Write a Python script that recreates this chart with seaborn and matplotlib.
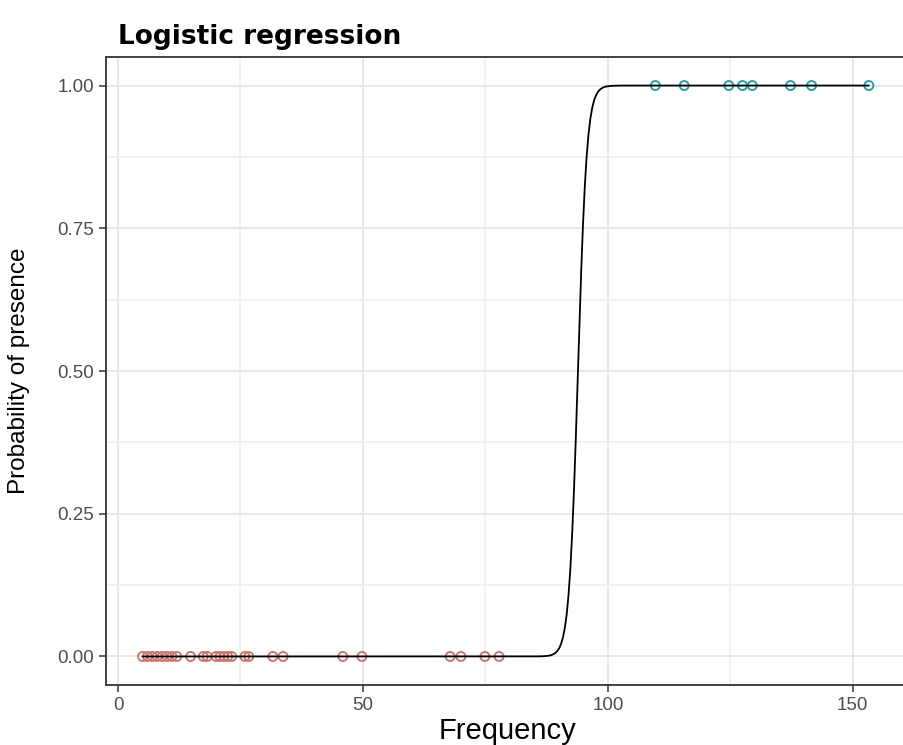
import numpy as np
import pandas as pd
import matplotlib
matplotlib.use("Agg")
import matplotlib.pyplot as plt
import seaborn as sns
from matplotlib.ticker import MultipleLocator, FormatStrFormatter

freq_absent = [5.0, 6.0, 7.0, 8.0, 9.0, 10.0, 11.0, 12.0, 14.8, 17.4, 18.2,
               20.0, 20.8, 21.6, 22.4, 23.2, 25.9, 26.7, 31.6, 33.7, 45.9,
               49.8, 67.8, 70.0, 74.9, 77.8]
freq_present = [109.7, 115.6, 124.7, 127.5, 129.5, 137.3, 141.6, 153.3]

# fitted logistic curve (midpoint / slope)
fit_midpoint = 93.9
fit_slope = 1.1

x_ticks = [0, 50, 100, 150]
y_ticks = [0.0, 0.25, 0.5, 0.75, 1.0]

df = pd.DataFrame({
    "Frequency": freq_absent + freq_present,
    "presence": [0] * len(freq_absent) + [1] * len(freq_present),
})
xs = np.linspace(min(df["Frequency"]), max(df["Frequency"]), 400)
curve = pd.DataFrame({"Frequency": xs,
                      "prob": 1 / (1 + np.exp(-fit_slope * (xs - fit_midpoint)))})

sns.set_theme(style="white")
plt.rcParams["font.family"] = ["Liberation Sans", "DejaVu Sans"]

fig = plt.figure(figsize=(9.04, 7.45), dpi=100)
ax = fig.add_axes([0.1173, 0.0805, 0.888, 0.843])

sns.scatterplot(data=df, x="Frequency", y="presence", hue="presence",
                palette={0: "#C97770", 1: "#2A9FA6"},
                s=42, linewidth=1.4, legend=False, ax=ax, zorder=3)
# hollow markers: seaborn fills them, so restyle the collection
coll = ax.collections[0]
coll.set_edgecolors(coll.get_facecolors())
coll.set_facecolors("none")

sns.lineplot(data=curve, x="Frequency", y="prob", color="black",
             linewidth=1.3, ax=ax, zorder=4)

ax.set_xlim(-2.45, 161.45)
ax.set_ylim(-0.05, 1.05)
ax.set_xticks(x_ticks)
ax.set_yticks(y_ticks)
ax.yaxis.set_major_formatter(FormatStrFormatter("%.2f"))
ax.xaxis.set_minor_locator(MultipleLocator(25))
ax.yaxis.set_minor_locator(MultipleLocator(0.125))

ax.grid(which="major", color="#E8E8E8", linewidth=1.4)
ax.grid(which="minor", color="#EEEEEE", linewidth=1.1)
ax.set_axisbelow(True)
for sp in ax.spines.values():
    sp.set_color("#333333")
    sp.set_linewidth(1.3)

ax.tick_params(which="major", length=5, width=1.1, color="#333333",
               labelcolor="#4D4D4D", labelsize=13.5, bottom=True, left=True)
ax.tick_params(which="minor", length=0)

ax.set_xlabel("Frequency", fontsize=21, color="black", labelpad=2)
ax.set_ylabel("Probability of presence", fontsize=17.5, color="black", labelpad=20)

fig.text(0.131, 0.950, "Logistic regression", fontsize=19, fontweight="bold",
         family="DejaVu Sans", color="black", va="center", ha="left")

fig.savefig("out.png", dpi=100)
